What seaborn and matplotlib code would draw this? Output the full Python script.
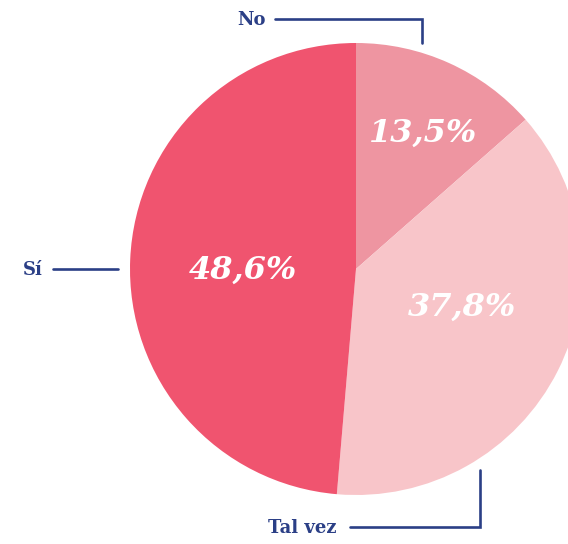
import seaborn as sns
import matplotlib
matplotlib.use("Agg")
import matplotlib.pyplot as plt

# data
categories = ["No", "Tal vez", "Sí"]
shares = [13.5, 37.8, 48.6]
pct_labels = ["13,5%", "37,8%", "48,6%"]

sns.set_theme(style="white")
palette = sns.color_palette(["#EE95A1", "#F8C5C9", "#F0546F"])
navy = "#2B3F86"

W, H = 568, 544
fig = plt.figure(figsize=(W / 100, H / 100), dpi=100)
ax = fig.add_axes([0, 0, 1, 1])
ax.set_xlim(0, W)
ax.set_ylim(0, H)
ax.set_aspect("equal")
ax.axis("off")

cx, cy, r = 356, H - 269, 226
wedges, _ = ax.pie(
    shares, colors=palette, startangle=90, counterclock=False,
    center=(cx, cy), radius=r, frame=True,
    wedgeprops=dict(linewidth=0),
)
ax.set_xlim(0, W)
ax.set_ylim(0, H)
ax.axis("off")

# percentage labels inside the slices
pct_pos = [(423, 133), (462, 307), (243, 270)]
for txt, (x, y) in zip(pct_labels, pct_pos):
    ax.text(x, H - y, txt, color="white", fontsize=23, fontweight="bold",
            style="italic", family="DejaVu Serif", ha="center", va="center")

# category labels with leader lines
lw = 1.9
ax.plot([275, 422, 422], [H - 19, H - 19, H - 43], color=navy, lw=lw,
        solid_joinstyle="miter", clip_on=False)
ax.text(266, H - 20, categories[0], color=navy, fontsize=13, fontweight="bold",
        family="DejaVu Serif", ha="right", va="center")

ax.plot([53, 118], [H - 269, H - 269], color=navy, lw=lw)
ax.text(43, H - 270, categories[2], color=navy, fontsize=13, fontweight="bold",
        family="DejaVu Serif", ha="right", va="center")

ax.plot([350, 480, 480], [H - 527, H - 527, H - 470], color=navy, lw=lw,
        solid_joinstyle="miter")
ax.text(337, H - 528, categories[1], color=navy, fontsize=13, fontweight="bold",
        family="DejaVu Serif", ha="right", va="center")

fig.savefig("out.png", dpi=100)
